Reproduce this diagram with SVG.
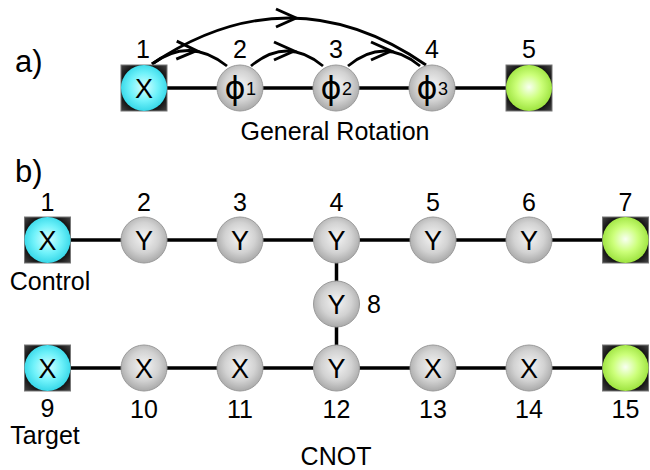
<svg xmlns="http://www.w3.org/2000/svg" width="650" height="470" viewBox="0 0 650 470">
<defs>
<radialGradient id="gGray" cx="50%" cy="45%" r="55%">
<stop offset="0" stop-color="#f4f4f4"/>
<stop offset="0.6" stop-color="#d2d2d2"/>
<stop offset="1" stop-color="#a9a9a9"/>
</radialGradient>
<radialGradient id="gCyan" cx="50%" cy="48%" r="55%">
<stop offset="0" stop-color="#d8ffff"/>
<stop offset="0.55" stop-color="#70f2fa"/>
<stop offset="1" stop-color="#2fd4e6"/>
</radialGradient>
<radialGradient id="gGreen" cx="50%" cy="48%" r="55%">
<stop offset="0" stop-color="#f8fff2"/>
<stop offset="0.5" stop-color="#ccff7a"/>
<stop offset="1" stop-color="#98e038"/>
</radialGradient>
<radialGradient id="gSq" cx="50%" cy="50%" r="70%">
<stop offset="0.6" stop-color="#000"/>
<stop offset="1" stop-color="#444"/>
</radialGradient>
<marker id="chev" markerUnits="userSpaceOnUse" markerWidth="26" markerHeight="22" refX="13" refY="9" orient="auto" overflow="visible">
<path d="M0,0 L20,9 L0,18" fill="none" stroke="#000" stroke-width="3" stroke-linejoin="miter"/>
</marker>
</defs>
<style>
.t{font-family:"Liberation Sans",Arial,sans-serif;fill:#000}
.num{font-size:25px;text-anchor:middle}
.lab{font-size:27px;text-anchor:middle}
.cap{font-size:25px;text-anchor:middle}
.hdr{font-size:31px}
.phi{font-family:"DejaVu Sans",sans-serif;font-size:32px;text-anchor:middle}
.sub{font-size:18px}
.sq{fill:url(#gSq);stroke:#777;stroke-width:1}
.gray{fill:url(#gGray);stroke:#9a9a9a;stroke-width:1}
.cyan{fill:url(#gCyan);stroke:none}
.green{fill:url(#gGreen);stroke:none}
.wire{stroke:#000;stroke-width:3.5;fill:none}
.arc{stroke:#000;stroke-width:2.8;fill:none;marker-mid:url(#chev)}
</style>

<g id="connectors">
<line class="wire" x1="144" y1="88" x2="529" y2="88"/>
<line class="wire" x1="47.5" y1="240" x2="625.5" y2="240"/>
<line class="wire" x1="47.5" y1="368" x2="625.5" y2="368"/>
<line class="wire" x1="336.5" y1="240" x2="336.5" y2="368"/>
<path class="arc" d="M152,64 Q171,50 189.5,50.5 Q208,51 227,66"/>
<path class="arc" d="M251,66 Q269,51 287,51 Q305,51 323,66"/>
<path class="arc" d="M348,66 Q366,51 384,51 Q402,51 420,66"/>
<path class="arc" d="M152,64 Q220,18 289,18 Q358,18 426,65"/>
</g>

<text class="t hdr" x="15" y="72">a)</text>
<text class="t hdr" x="15" y="182">b)</text>

<g id="a1"><rect class="sq" x="121" y="65" width="46" height="46"/><circle class="cyan" cx="144" cy="88" r="23"/><text class="t lab" x="144" y="98">X</text><text class="t num" x="143" y="58">1</text></g>
<g id="a2"><circle class="gray" cx="240" cy="88" r="23"/><text class="t phi" x="235" y="99">ϕ</text><text class="t sub" x="246" y="95">1</text><text class="t num" x="240" y="58">2</text></g>
<g id="a3"><circle class="gray" cx="336" cy="88" r="23"/><text class="t phi" x="331" y="99">ϕ</text><text class="t sub" x="342" y="95">2</text><text class="t num" x="336" y="58">3</text></g>
<g id="a4"><circle class="gray" cx="432" cy="88" r="23"/><text class="t phi" x="427" y="99">ϕ</text><text class="t sub" x="438" y="95">3</text><text class="t num" x="432" y="58">4</text></g>
<g id="a5"><rect class="sq" x="506" y="65" width="46" height="46"/><circle class="green" cx="529" cy="88" r="23"/><text class="t num" x="529" y="58">5</text></g>
<text class="t" x="335" y="140" font-size="25" text-anchor="middle">General Rotation</text>

<g id="b1"><rect class="sq" x="24.5" y="217" width="46" height="46"/><circle class="cyan" cx="47.5" cy="240" r="23"/><text class="t lab" x="47.5" y="250">X</text><text class="t num" x="47.5" y="211">1</text><text class="t cap" x="50" y="290" font-size="26">Control</text></g>
<g id="b2"><circle class="gray" cx="144" cy="240" r="23"/><text class="t lab" x="144" y="250">Y</text><text class="t num" x="144" y="211">2</text></g>
<g id="b3"><circle class="gray" cx="240" cy="240" r="23"/><text class="t lab" x="240" y="250">Y</text><text class="t num" x="240" y="211">3</text></g>
<g id="b4"><circle class="gray" cx="336.5" cy="240" r="23"/><text class="t lab" x="336.5" y="250">Y</text><text class="t num" x="336.5" y="211">4</text></g>
<g id="b5"><circle class="gray" cx="433" cy="240" r="23"/><text class="t lab" x="433" y="250">Y</text><text class="t num" x="433" y="211">5</text></g>
<g id="b6"><circle class="gray" cx="529" cy="240" r="23"/><text class="t lab" x="529" y="250">Y</text><text class="t num" x="529" y="211">6</text></g>
<g id="b7"><rect class="sq" x="602.5" y="217" width="46" height="46"/><circle class="green" cx="625.5" cy="240" r="23"/><text class="t num" x="625.5" y="211">7</text></g>
<g id="b8"><circle class="gray" cx="336.5" cy="304" r="23"/><text class="t lab" x="336.5" y="314">Y</text><text class="t" x="367" y="313" font-size="25">8</text></g>
<g id="b9"><rect class="sq" x="24.5" y="345" width="46" height="46"/><circle class="cyan" cx="47.5" cy="368" r="23"/><text class="t lab" x="47.5" y="378">X</text><text class="t num" x="47.5" y="417">9</text><text class="t cap" x="45" y="444" font-size="24">Target</text></g>
<g id="b10"><circle class="gray" cx="144" cy="368" r="23"/><text class="t lab" x="144" y="378">X</text><text class="t num" x="144" y="418">10</text></g>
<g id="b11"><circle class="gray" cx="240" cy="368" r="23"/><text class="t lab" x="240" y="378">X</text><text class="t num" x="240" y="418">11</text></g>
<g id="b12"><circle class="gray" cx="336.5" cy="368" r="23"/><text class="t lab" x="336.5" y="378">Y</text><text class="t num" x="336.5" y="418">12</text></g>
<g id="b13"><circle class="gray" cx="433" cy="368" r="23"/><text class="t lab" x="433" y="378">X</text><text class="t num" x="433" y="418">13</text></g>
<g id="b14"><circle class="gray" cx="529" cy="368" r="23"/><text class="t lab" x="529" y="378">X</text><text class="t num" x="529" y="418">14</text></g>
<g id="b15"><rect class="sq" x="602.5" y="345" width="46" height="46"/><circle class="green" cx="625.5" cy="368" r="23"/><text class="t num" x="625.5" y="418">15</text></g>
<text class="t cap" x="336" y="465">CNOT</text>
</svg>
